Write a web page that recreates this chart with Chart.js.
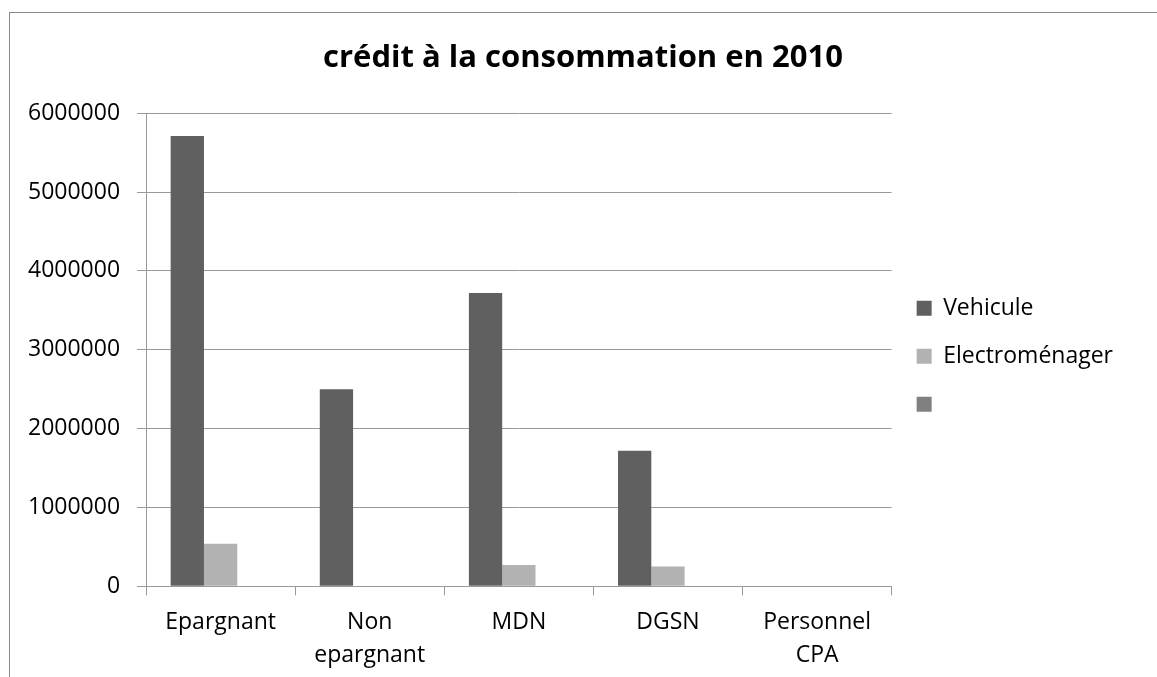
<!DOCTYPE html>
<html>
<head>
<meta charset="utf-8">
<script src="https://cdn.jsdelivr.net/npm/chart.js@4"></script>
<style>
    html, body { margin: 0; padding: 0; background: #ffffff; }
    #wrap { position: relative; width: 1157px; height: 677px; overflow: hidden; }
    #frame { position: absolute; left: 9px; top: 12px; width: 1200px; height: 700px;
             border-top: 1px solid #8a8a8a; border-left: 1px solid #8a8a8a; }
    canvas { position: absolute; left: 0; top: 0; }
</style>
</head>
<body>
<div id="wrap">
    <div id="frame"></div>
    <canvas id="creditChart" width="1157" height="688"></canvas>
</div>
<script>
const titleText = 'crédit à la consommation en 2010';
const categories = ['Epargnant', ['Non', 'epargnant'], 'MDN', 'DGSN', ['Personnel', 'CPA']];
const vehicule = [5710000, 2500000, 3720000, 1720000, 0];
const electromenager = [540000, 0, 270000, 250000, 0];
const serie3 = [0, 0, 0, 0, 0];
const yTicks = [0, 1000000, 2000000, 3000000, 4000000, 5000000, 6000000];

Chart.defaults.font.family = "'Open Sans', sans-serif";
Chart.defaults.color = '#000000';

// centre the title over the whole frame, not just the padded layout
const titleOverFrame = {
    id: 'titleOverFrame',
    afterLayout(chart) {
        const t = chart.titleBlock;
        if (t) {
            t.left = 9;
            t.right = chart.width;
            t.width = t.right - t.left;
        }
    }
};

const ctx = document.getElementById('creditChart').getContext('2d');
new Chart(ctx, {
    type: 'bar',
    data: {
        labels: categories,
        datasets: [
            {
                label: 'Vehicule',
                data: vehicule,
                backgroundColor: '#606060',
                borderWidth: 0
            },
            {
                label: 'Electroménager',
                data: electromenager,
                backgroundColor: '#b2b2b2',
                borderWidth: 0
            },
            {
                label: '',
                data: serie3,
                backgroundColor: '#808080',
                borderWidth: 0
            }
        ]
    },
    options: {
        responsive: false,
        animation: false,
        layout: {
            padding: { left: 11, right: 34, top: 0, bottom: 6 }
        },
        datasets: {
            bar: {
                categoryPercentage: 0.67,
                barPercentage: 1.0
            }
        },
        plugins: {
            title: {
                display: true,
                text: titleText,
                font: { size: 31, weight: 'bold' },
                color: '#000000',
                padding: { top: 40, bottom: 36 }
            },
            legend: {
                position: 'right',
                fullSize: false,
                title: {
                    // empty title only pushes the items down a little
                    display: true,
                    text: '',
                    font: { size: 1 },
                    padding: 6
                },
                labels: {
                    boxWidth: 15,
                    boxHeight: 15,
                    padding: 25,
                    font: { size: 23 },
                    color: '#000000'
                }
            },
            tooltip: { enabled: false }
        },
        scales: {
            x: {
                grid: {
                    display: true,
                    offset: true,
                    drawOnChartArea: false,
                    drawTicks: true,
                    tickLength: 9,
                    color: '#999999'
                },
                border: { display: true, color: '#999999' },
                ticks: {
                    font: { size: 23, lineHeight: 1.45 },
                    padding: 10,
                    maxRotation: 0,
                    autoSkip: false
                }
            },
            y: {
                min: 0,
                max: 6000000,
                afterBuildTicks: axis => {
                    axis.ticks = yTicks.map(v => ({ value: v }));
                },
                grid: {
                    color: '#999999',
                    tickLength: 9
                },
                border: { display: true, color: '#999999' },
                ticks: {
                    font: { size: 23 },
                    padding: 17,
                    callback: value => String(value)
                }
            }
        }
    },
    plugins: [titleOverFrame]
});
</script>
</body>
</html>
